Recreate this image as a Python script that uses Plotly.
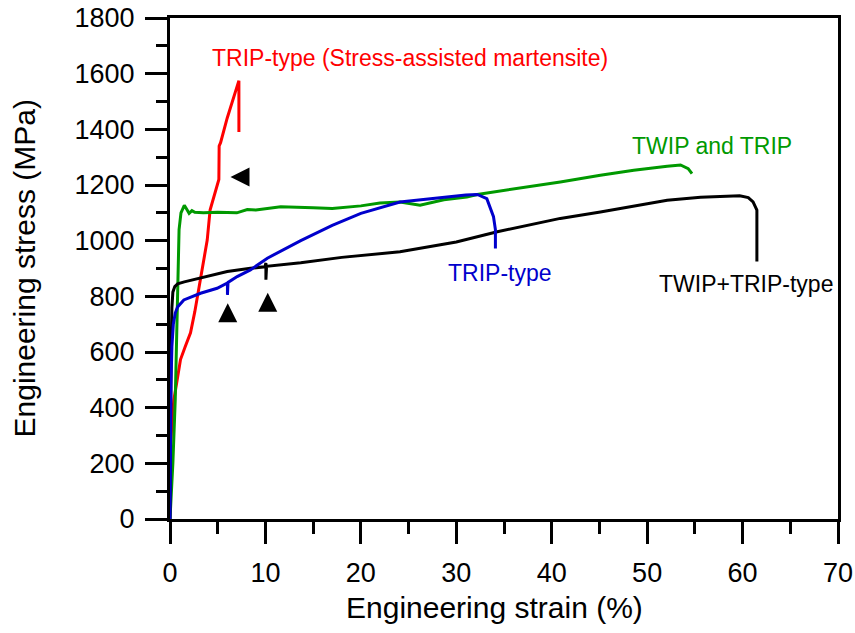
import plotly.graph_objects as go

# Red: TRIP-type (stress-assisted martensite)
red_x = [0, 0.05, 0.2, 0.4, 0.75, 1.1, 1.6, 2.15, 2.6, 3.0, 3.5, 3.9, 4.2, 4.6, 5.05, 5.12, 5.15, 5.3, 5.99, 6.68, 7.22, 7.22]
red_y = [170, 250, 344, 427, 499, 573, 620, 669, 745, 823, 912, 1002, 1110, 1160, 1212, 1220, 1340, 1352, 1440, 1515, 1575, 1390]

# Green: TWIP and TRIP
green_x = [0, 0.3, 0.55, 0.7, 0.8, 0.95, 1.15, 1.5, 1.8, 2.0, 2.3, 2.6, 3.5, 5, 7, 8.1, 9, 11.6, 15, 17, 20, 22, 24.1, 26.2, 28.7, 31.1, 32.2, 36.4, 40.9, 45.1, 48.6, 52.1, 53.5, 54.3, 54.7]
green_y = [0, 200, 430, 700, 900, 1040, 1100, 1127, 1110, 1098, 1108, 1102, 1100, 1102, 1100, 1112, 1110, 1122, 1118, 1116, 1125, 1135, 1139, 1127, 1147, 1157, 1166, 1187, 1211, 1235, 1253, 1267, 1272, 1259, 1241]

# Blue: TRIP-type
blue_x = [0, 0.03, 0.1, 0.2, 0.35, 0.55, 0.8, 1.45, 3.2, 4.94, 5.98, 6.02, 6.02, 6.08, 7.04, 8.43, 10.2, 13.7, 17, 20, 24.1, 28.7, 31.0, 32.2, 33.2, 33.9, 34.1, 34.1]
blue_y = [0, 250, 480, 620, 700, 740, 762, 787, 811, 829, 845, 848, 805, 850, 871, 895, 937, 1000, 1055, 1098, 1139, 1157, 1164, 1166, 1151, 1086, 1040, 972]

# Black: TWIP+TRIP-type
black_x = [0, 0.05, 0.12, 0.2, 0.3, 0.5, 0.8, 1.5, 3.2, 6.0, 8.43, 9.95, 10.05, 10.05, 10.12, 13.7, 18, 24.1, 30, 34.3, 40.9, 45.1, 52.1, 55.6, 59.7, 60.6, 61.1, 61.5, 61.5]
black_y = [0, 380, 620, 760, 815, 835, 845, 852, 865, 889, 901, 906, 920, 860, 908, 921, 940, 960, 995, 1032, 1080, 1103, 1145, 1156, 1161, 1155, 1139, 1110, 925]

# Event markers (black triangles)
tri_up_x = [6.05, 10.24]
tri_up_y = [775, 813]
tri_left_x = [6.34]
tri_left_y = [1229]

labels = ["TRIP-type (Stress-assisted martensite)", "TWIP and TRIP", "TRIP-type", "TWIP+TRIP-type"]
label_x = [25.15, 56.8, 34.58, 60.36]
label_y = [1656, 1340, 884, 844]
label_colors = ["#ff0000", "#009900", "#0000cc", "#000000"]

x_title = "Engineering strain (%)"
y_title = "Engineering stress (MPa)"

FONT = "Liberation Sans, Arial, sans-serif"

fig = go.Figure()
for xs, ys, c in [(red_x, red_y, "#ff0000"), (green_x, green_y, "#009900"),
                  (black_x, black_y, "#000000"), (blue_x, blue_y, "#0000cc")]:
    fig.add_trace(go.Scatter(x=xs, y=ys, mode="lines", line=dict(color=c, width=3),
                             showlegend=False, hoverinfo="skip", cliponaxis=False))

fig.add_trace(go.Scatter(x=tri_up_x, y=tri_up_y, mode="markers",
                         marker=dict(symbol="arrow-up", size=19, color="black", line=dict(width=0)),
                         showlegend=False))
fig.add_trace(go.Scatter(x=tri_left_x, y=tri_left_y, mode="markers",
                         marker=dict(symbol="arrow-left", size=19, color="black", line=dict(width=0)),
                         showlegend=False))

for t, x, y, c in zip(labels, label_x, label_y, label_colors):
    fig.add_annotation(x=x, y=y, xref="x", yref="y", text=t, showarrow=False,
                       font=dict(family=FONT, size=23, color=c), xanchor="center", yanchor="middle")

# axis titles
fig.add_annotation(x=0.4865, y=0, xref="paper", yref="paper", yshift=-88, text=x_title,
                   showarrow=False, font=dict(family=FONT, size=30, color="black"),
                   xanchor="center", yanchor="middle")
fig.add_annotation(x=0, y=0.5, xref="paper", yref="paper", xshift=-146, text=y_title,
                   showarrow=False, textangle=-90, font=dict(family=FONT, size=30, color="black"),
                   xanchor="center", yanchor="middle")

fig.update_layout(
    width=855, height=633,
    margin=dict(l=170, r=17, t=18, b=114),
    paper_bgcolor="white", plot_bgcolor="white",
    font=dict(family=FONT, color="black"),
    xaxis=dict(range=[0, 70], dtick=10, showgrid=False, zeroline=False, automargin=False,
               showline=True, linewidth=3, linecolor="black", mirror=True,
               ticks="outside", ticklen=22, tickwidth=3, tickcolor="black",
               minor=dict(dtick=5, ticks="outside", ticklen=12, tickwidth=3, tickcolor="black", showgrid=False),
               tickfont=dict(size=27, family=FONT), ticklabelstandoff=6),
    yaxis=dict(range=[0, 1800], dtick=200, showgrid=False, zeroline=False, automargin=False,
               showline=True, linewidth=3, linecolor="black", mirror=True,
               ticks="outside", ticklen=22, tickwidth=3, tickcolor="black",
               minor=dict(dtick=100, ticks="outside", ticklen=11, tickwidth=3, tickcolor="black", showgrid=False),
               tickfont=dict(size=27, family=FONT), ticklabelstandoff=5),
)

fig.write_html("out.html")
